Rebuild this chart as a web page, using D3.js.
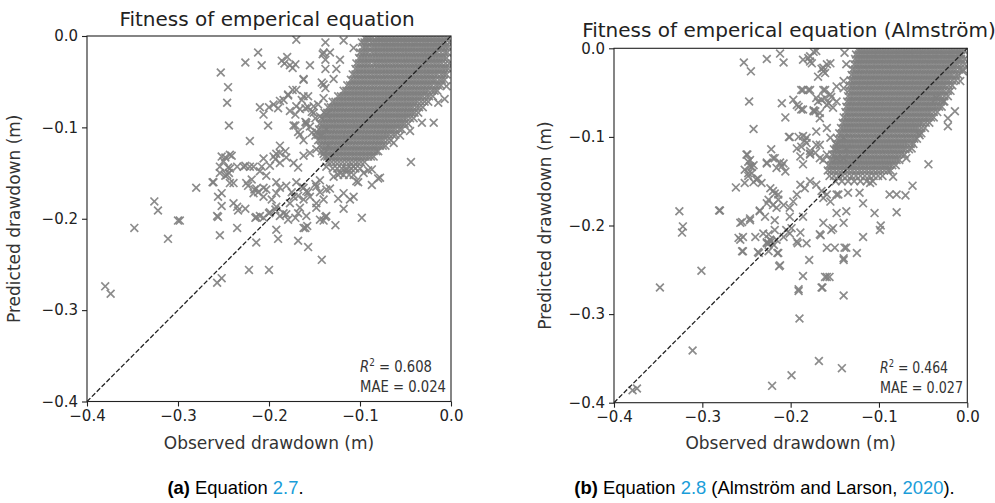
<!DOCTYPE html>
<html>
<head>
<meta charset="utf-8">
<script src="https://cdn.jsdelivr.net/npm/d3@7"></script>
<style>
  html, body { margin: 0; padding: 0; background: #fff; }
  svg { display: block; }
</style>
</head>
<body>
<svg id="fig" width="995" height="503"></svg>
<script>
// Axis ticks shared by both panels (metres)
const tickValues = [-0.4, -0.3, -0.2, -0.1, 0.0];

// Panel (a): scattered [observed, predicted] drawdown pairs (m)
const scatterA = [
  [-0.170,-0.004],[-0.212,-0.018],[-0.226,-0.029],[-0.208,-0.032],[-0.253,-0.040],[-0.245,-0.056],[-0.246,-0.073],
  [-0.244,-0.098],[-0.221,-0.115],[-0.183,-0.030],[-0.180,-0.023],[-0.177,-0.032],[-0.174,-0.035],[-0.186,-0.027],
  [-0.171,-0.031],[-0.155,-0.032],[-0.141,-0.020],[-0.138,-0.026],[-0.138,-0.007],[-0.140,-0.018],[-0.162,-0.048],
  [-0.170,-0.059],[-0.142,-0.051],[-0.138,-0.057],[-0.210,-0.078],[-0.206,-0.086],[-0.201,-0.098],[-0.195,-0.075],
  [-0.190,-0.079],[-0.184,-0.070],[-0.179,-0.065],[-0.174,-0.059],[-0.170,-0.077],[-0.164,-0.070],[-0.160,-0.079],
  [-0.157,-0.066],[-0.153,-0.083],[-0.149,-0.090],[-0.173,-0.098],[-0.168,-0.105],[-0.160,-0.094],[-0.155,-0.099],
  [-0.148,-0.105],[-0.162,-0.114],[-0.252,-0.132],[-0.243,-0.130],[-0.254,-0.143],[-0.243,-0.145],[-0.254,-0.150],
  [-0.235,-0.143],[-0.228,-0.143],[-0.217,-0.143],[-0.208,-0.143],[-0.206,-0.134],[-0.195,-0.132],[-0.188,-0.128],
  [-0.261,-0.160],[-0.243,-0.161],[-0.246,-0.152],[-0.280,-0.166],[-0.256,-0.176],[-0.252,-0.172],[-0.239,-0.183],
  [-0.235,-0.187],[-0.257,-0.197],[-0.256,-0.198],[-0.225,-0.161],[-0.217,-0.172],[-0.214,-0.167],[-0.206,-0.176],
  [-0.203,-0.168],[-0.197,-0.179],[-0.192,-0.172],[-0.226,-0.189],[-0.214,-0.198],[-0.206,-0.199],[-0.200,-0.194],
  [-0.192,-0.187],[-0.184,-0.194],[-0.177,-0.183],[-0.173,-0.176],[-0.235,-0.210],[-0.254,-0.218],[-0.192,-0.212],
  [-0.179,-0.201],[-0.168,-0.194],[-0.214,-0.226],[-0.190,-0.222],[-0.168,-0.224],[-0.157,-0.231],[-0.162,-0.210],
  [-0.158,-0.208],[-0.144,-0.201],[-0.138,-0.198],[-0.127,-0.207],[-0.118,-0.189],[-0.111,-0.179],[-0.098,-0.199],
  [-0.348,-0.210],[-0.326,-0.181],[-0.322,-0.191],[-0.300,-0.202],[-0.311,-0.222],[-0.044,-0.138],[-0.087,-0.163],
  [-0.080,-0.156],[-0.104,-0.159],[-0.096,-0.150],[-0.091,-0.147],[-0.122,-0.150],[-0.115,-0.147],[-0.107,-0.143],
  [-0.129,-0.154],[-0.137,-0.143],[-0.144,-0.158],[-0.133,-0.167],[-0.148,-0.165],[-0.164,-0.165],[-0.159,-0.170],
  [-0.155,-0.176],[-0.148,-0.183],[-0.162,-0.179],[-0.124,-0.178],[-0.118,-0.172],[-0.107,-0.176],[-0.005,-0.055],
  [-0.007,-0.069],[-0.014,-0.073],[-0.019,-0.095],[-0.032,-0.095],[-0.045,-0.104],[-0.056,-0.109],[-0.063,-0.117],
  [-0.078,-0.155],[-0.087,-0.146],[-0.102,-0.160],[-0.162,-0.047],[-0.140,-0.053],[-0.129,-0.047],[-0.138,-0.036],
  [-0.126,-0.036],[-0.122,-0.026],[-0.133,-0.018],[-0.118,-0.005],[-0.107,-0.013],[-0.162,-0.066],[-0.151,-0.077],
  [-0.159,-0.095],[-0.144,-0.088],[-0.149,-0.109],[-0.179,-0.064],[-0.188,-0.071],[-0.200,-0.078],[-0.177,-0.082],
  [-0.171,-0.086],[-0.166,-0.080],[-0.157,-0.078],[-0.151,-0.084],[-0.146,-0.075],[-0.140,-0.068],[-0.137,-0.086],
  [-0.171,-0.098],[-0.166,-0.108],[-0.159,-0.097],[-0.153,-0.106],[-0.142,-0.109],[-0.137,-0.102],[-0.188,-0.120],
  [-0.182,-0.126],[-0.192,-0.129],[-0.181,-0.133],[-0.188,-0.139],[-0.173,-0.139],[-0.168,-0.144],[-0.162,-0.131],
  [-0.155,-0.128],[-0.148,-0.124],[-0.140,-0.129],[-0.135,-0.120],[-0.248,-0.133],[-0.250,-0.137],[-0.241,-0.131],
  [-0.245,-0.144],[-0.244,-0.150],[-0.248,-0.153],[-0.239,-0.161],[-0.226,-0.142],[-0.221,-0.143],[-0.210,-0.148],
  [-0.199,-0.142],[-0.193,-0.135],[-0.203,-0.153],[-0.219,-0.157],[-0.223,-0.164],[-0.216,-0.168],[-0.212,-0.171],
  [-0.206,-0.166],[-0.192,-0.160],[-0.188,-0.166],[-0.181,-0.164],[-0.175,-0.171],[-0.168,-0.175],[-0.170,-0.160],
  [-0.162,-0.166],[-0.157,-0.171],[-0.149,-0.162],[-0.144,-0.171],[-0.140,-0.179],[-0.137,-0.168],[-0.262,-0.160],
  [-0.252,-0.186],[-0.234,-0.191],[-0.215,-0.199],[-0.210,-0.197],[-0.199,-0.193],[-0.193,-0.190],[-0.188,-0.197],
  [-0.181,-0.195],[-0.171,-0.199],[-0.166,-0.188],[-0.159,-0.197],[-0.148,-0.188],[-0.140,-0.202],[-0.137,-0.197],
  [-0.298,-0.202],[-0.160,-0.210],[-0.142,-0.245],[-0.222,-0.256],[-0.200,-0.256],[-0.257,-0.270],[-0.252,-0.265],
  [-0.380,-0.274],[-0.374,-0.282]
];

// Panel (a): rows of the dense cloud, [predicted, [observed...]] in millimetres
const denseA = [
  [-2,[-95,-92,-89,-86,-82,-79,-76,-73,-70,-67,-64,-61,-58,-55,-52,-49,-46,-43,-40,-37,-34,-31,-28,-25,-22,-19,-16,-13,-10,-7,-4]],
  [-7,[-98,-95,-92,-88,-85,-82,-79,-76,-73,-70,-67,-64,-61,-58,-55,-52,-49,-46,-43,-40,-37,-34,-31,-28,-25,-22,-19,-16,-13,-10,-6,-2]],
  [-12,[-97,-94,-91,-87,-84,-81,-78,-75,-72,-69,-66,-63,-60,-57,-54,-51,-48,-45,-42,-39,-36,-33,-30,-27,-24,-21,-18,-15,-12,-9,-6,-3]],
  [-18,[-100,-97,-94,-91,-87,-84,-81,-78,-75,-72,-69,-66,-63,-60,-57,-54,-51,-48,-45,-42,-39,-36,-33,-30,-27,-24,-21,-18,-15,-11,-7,-4]],
  [-24,[-101,-98,-95,-92,-89,-86,-83,-80,-77,-74,-71,-68,-65,-62,-59,-56,-53,-50,-47,-44,-41,-38,-35,-32,-29,-26,-23,-20,-17,-14,-11,-8,-5]],
  [-30,[-104,-101,-98,-95,-92,-89,-85,-82,-79,-76,-73,-70,-67,-64,-61,-58,-55,-52,-49,-46,-43,-40,-37,-34,-31,-28,-25,-22,-19,-16,-13,-10,-6,-2]],
  [-36,[-105,-102,-99,-96,-93,-90,-87,-84,-81,-78,-75,-72,-69,-66,-63,-60,-57,-54,-51,-48,-45,-42,-39,-36,-33,-30,-27,-24,-21,-18,-15,-12,-9,-6,-3]],
  [-42,[-108,-105,-102,-99,-96,-93,-90,-87,-84,-81,-78,-75,-72,-69,-66,-63,-60,-57,-54,-51,-48,-45,-42,-39,-36,-33,-30,-27,-24,-21,-18,-15,-11,-8,-5]],
  [-48,[-110,-107,-104,-101,-98,-95,-92,-89,-86,-83,-80,-77,-74,-71,-68,-65,-62,-59,-56,-53,-50,-47,-44,-41,-38,-35,-32,-29,-26,-23,-20,-17,-13,-10,-7]],
  [-54,[-114,-111,-108,-105,-102,-99,-96,-93,-90,-87,-84,-81,-78,-75,-72,-69,-66,-63,-60,-57,-54,-51,-48,-45,-42,-39,-36,-33,-30,-27,-24,-21,-17,-14,-11]],
  [-60,[-118,-115,-112,-109,-106,-103,-100,-97,-94,-91,-88,-85,-82,-79,-76,-73,-70,-67,-64,-61,-58,-55,-52,-49,-46,-43,-40,-37,-34,-31,-28,-25,-21,-18,-15]],
  [-66,[-124,-121,-118,-115,-112,-109,-106,-103,-100,-97,-94,-91,-88,-85,-82,-79,-76,-73,-70,-67,-64,-61,-58,-55,-52,-49,-46,-43,-40,-37,-34,-31,-27,-24,-20]],
  [-72,[-130,-127,-124,-121,-118,-115,-112,-109,-106,-103,-100,-97,-94,-91,-88,-85,-82,-79,-76,-73,-70,-67,-64,-61,-58,-55,-52,-49,-46,-43,-40,-37,-33,-29,-25]],
  [-78,[-135,-132,-129,-126,-123,-120,-117,-114,-111,-108,-105,-102,-99,-96,-93,-90,-87,-84,-81,-78,-75,-72,-69,-66,-63,-60,-57,-54,-51,-48,-45,-42,-38,-35,-31]],
  [-84,[-139,-136,-133,-130,-127,-124,-121,-118,-115,-112,-109,-106,-103,-100,-97,-94,-91,-88,-85,-82,-79,-76,-73,-70,-67,-64,-61,-58,-55,-52,-49,-46,-43,-40,-36]],
  [-90,[-142,-139,-136,-133,-130,-127,-124,-121,-118,-115,-112,-109,-106,-103,-100,-97,-94,-91,-88,-85,-82,-79,-76,-73,-70,-67,-64,-61,-58,-55,-52,-49,-45,-41]],
  [-96,[-144,-141,-138,-135,-132,-129,-126,-123,-120,-117,-114,-111,-108,-105,-102,-99,-96,-93,-90,-87,-84,-81,-78,-75,-72,-69,-66,-63,-60,-57,-54,-51,-47]],
  [-102,[-145,-142,-139,-136,-133,-130,-127,-124,-121,-118,-115,-112,-109,-106,-103,-100,-97,-94,-91,-88,-85,-82,-79,-76,-73,-70,-67,-64,-61,-57,-54]],
  [-108,[-146,-143,-140,-137,-134,-131,-128,-125,-122,-119,-116,-113,-110,-107,-104,-101,-98,-95,-92,-89,-86,-83,-80,-77,-74,-71,-68,-64,-61]],
  [-114,[-146,-143,-140,-137,-134,-131,-128,-125,-122,-119,-116,-113,-110,-107,-104,-101,-98,-95,-92,-89,-86,-83,-80,-77,-74,-70,-66]],
  [-120,[-144,-141,-138,-135,-132,-129,-126,-123,-120,-117,-114,-111,-108,-105,-102,-99,-96,-93,-90,-87,-84,-81,-78,-75,-72]],
  [-126,[-142,-139,-136,-133,-130,-127,-124,-121,-118,-115,-112,-109,-106,-103,-100,-97,-94,-91,-88,-85,-82,-80]],
  [-132,[-139,-136,-133,-130,-127,-124,-121,-118,-115,-112,-109,-106,-103,-100,-97,-94,-91,-88,-85]],
  [-138,[-135,-131,-127,-123,-119,-115,-111,-107,-103,-99,-95]],
  [-145,[-130,-125,-120,-115,-110,-105,-100]],
  [-152,[-124,-118,-112,-107]]
];

// Panel (b): scattered [observed, predicted] drawdown pairs (m)
const scatterB = [
  [-0.253,-0.016],[-0.245,-0.026],[-0.227,-0.012],[-0.212,-0.006],[-0.208,-0.016],[-0.186,-0.013],[-0.178,-0.009],
  [-0.176,-0.017],[-0.174,-0.004],[-0.165,-0.023],[-0.161,-0.028],[-0.155,-0.017],[-0.169,-0.032],[-0.247,-0.060],
  [-0.210,-0.062],[-0.206,-0.078],[-0.197,-0.058],[-0.191,-0.066],[-0.186,-0.047],[-0.178,-0.047],[-0.242,-0.091],
  [-0.201,-0.100],[-0.191,-0.100],[-0.188,-0.111],[-0.184,-0.104],[-0.178,-0.119],[-0.174,-0.070],[-0.167,-0.073],
  [-0.165,-0.058],[-0.161,-0.047],[-0.157,-0.062],[-0.154,-0.055],[-0.148,-0.043],[-0.249,-0.120],[-0.246,-0.126],
  [-0.244,-0.134],[-0.248,-0.141],[-0.242,-0.132],[-0.227,-0.130],[-0.220,-0.124],[-0.208,-0.130],[-0.206,-0.139],
  [-0.237,-0.147],[-0.242,-0.151],[-0.262,-0.157],[-0.252,-0.152],[-0.223,-0.158],[-0.218,-0.164],[-0.214,-0.171],
  [-0.227,-0.175],[-0.235,-0.183],[-0.229,-0.190],[-0.257,-0.197],[-0.255,-0.196],[-0.246,-0.194],[-0.280,-0.183],
  [-0.326,-0.184],[-0.322,-0.201],[-0.323,-0.208],[-0.259,-0.214],[-0.254,-0.213],[-0.240,-0.213],[-0.231,-0.209],
  [-0.223,-0.216],[-0.218,-0.205],[-0.208,-0.213],[-0.201,-0.209],[-0.301,-0.251],[-0.348,-0.270],[-0.311,-0.341],
  [-0.379,-0.386],[-0.374,-0.384],[-0.221,-0.381],[-0.199,-0.369],[-0.168,-0.353],[-0.142,-0.361],[-0.190,-0.305],
  [-0.191,-0.274],[-0.186,-0.257],[-0.164,-0.270],[-0.159,-0.258],[-0.156,-0.258],[-0.140,-0.279],[-0.179,-0.239],
  [-0.140,-0.239],[-0.212,-0.245],[-0.215,-0.231],[-0.219,-0.222],[-0.225,-0.220],[-0.227,-0.219],[-0.254,-0.229],
  [-0.236,-0.231],[-0.192,-0.220],[-0.182,-0.220],[-0.166,-0.211],[-0.154,-0.205],[-0.159,-0.225],[-0.150,-0.225],
  [-0.137,-0.225],[-0.125,-0.231],[-0.118,-0.213],[-0.099,-0.205],[-0.180,-0.011],[-0.171,-0.003],[-0.163,-0.026],
  [-0.159,-0.018],[-0.139,-0.005],[-0.137,-0.018],[-0.193,-0.064],[-0.188,-0.069],[-0.180,-0.047],[-0.172,-0.071],
  [-0.169,-0.060],[-0.163,-0.047],[-0.161,-0.056],[-0.159,-0.064],[-0.155,-0.052],[-0.148,-0.060],[-0.140,-0.045],
  [-0.202,-0.100],[-0.186,-0.099],[-0.182,-0.107],[-0.189,-0.122],[-0.193,-0.113],[-0.178,-0.116],[-0.171,-0.094],
  [-0.167,-0.109],[-0.172,-0.118],[-0.159,-0.120],[-0.155,-0.101],[-0.148,-0.109],[-0.140,-0.101],[-0.137,-0.113],
  [-0.148,-0.124],[-0.163,-0.126],[-0.222,-0.114],[-0.218,-0.124],[-0.212,-0.129],[-0.210,-0.133],[-0.227,-0.129],
  [-0.216,-0.135],[-0.250,-0.120],[-0.248,-0.128],[-0.246,-0.133],[-0.252,-0.137],[-0.244,-0.141],[-0.248,-0.144],
  [-0.239,-0.148],[-0.233,-0.152],[-0.220,-0.161],[-0.214,-0.165],[-0.225,-0.171],[-0.220,-0.177],[-0.208,-0.177],
  [-0.216,-0.180],[-0.201,-0.180],[-0.197,-0.173],[-0.193,-0.165],[-0.189,-0.154],[-0.184,-0.158],[-0.178,-0.150],
  [-0.171,-0.154],[-0.165,-0.161],[-0.163,-0.169],[-0.159,-0.165],[-0.155,-0.173],[-0.148,-0.165],[-0.281,-0.183],
  [-0.235,-0.184],[-0.246,-0.192],[-0.218,-0.194],[-0.201,-0.190],[-0.186,-0.190],[-0.199,-0.203],[-0.189,-0.208],
  [-0.257,-0.216],[-0.225,-0.210],[-0.222,-0.218],[-0.227,-0.220],[-0.216,-0.216],[-0.205,-0.205],[-0.255,-0.229],
  [-0.237,-0.230],[-0.225,-0.229],[-0.214,-0.231],[-0.193,-0.218],[-0.167,-0.210],[-0.139,-0.225],[-0.163,-0.197],
  [-0.152,-0.203],[-0.140,-0.197],[-0.148,-0.186],[-0.137,-0.184],[-0.213,-0.246],[-0.140,-0.237],[-0.161,-0.258],
  [-0.191,-0.272],[-0.165,-0.270],[-0.022,-0.088],[-0.044,-0.131],[-0.084,-0.145],[-0.110,-0.152],[-0.122,-0.163],
  [-0.135,-0.163],[-0.146,-0.165],[-0.088,-0.165],[-0.080,-0.165],[-0.014,-0.071],[-0.022,-0.079],[-0.027,-0.060],
  [-0.035,-0.056],[-0.005,-0.026],[-0.008,-0.037],[-0.054,-0.098],[-0.063,-0.113],[-0.069,-0.124],[-0.178,-0.015],
  [-0.163,-0.022],[-0.188,-0.047],[-0.171,-0.056],[-0.186,-0.069],[-0.174,-0.071],[-0.167,-0.079],[-0.152,-0.067],
  [-0.140,-0.037],[-0.159,-0.090],[-0.182,-0.101],[-0.171,-0.109],[-0.178,-0.120],[-0.186,-0.131],[-0.167,-0.124],
  [-0.148,-0.113],[-0.140,-0.124],[-0.080,-0.185],[-0.098,-0.200],[-0.070,-0.166],[-0.062,-0.155],[-0.118,-0.175],
  [-0.105,-0.186]
];

// Panel (b): rows of the dense cloud, [predicted, [observed...]] in millimetres
const denseB = [
  [-2,[-124,-121,-118,-115,-112,-109,-106,-103,-100,-97,-94,-91,-88,-85,-82,-79,-76,-73,-70,-67,-64,-61,-58,-55,-52,-49,-46,-43,-40,-37,-34,-31,-28,-25,-22,-19,-16,-13,-10,-7,-4]],
  [-7,[-126,-123,-120,-117,-114,-111,-108,-105,-102,-99,-96,-93,-90,-87,-84,-81,-78,-75,-72,-69,-66,-63,-60,-57,-54,-51,-48,-45,-42,-39,-36,-33,-30,-27,-24,-21,-18,-15,-12,-9,-6]],
  [-12,[-127,-124,-121,-118,-115,-112,-109,-106,-103,-100,-97,-94,-91,-88,-85,-82,-79,-76,-73,-70,-67,-64,-61,-58,-55,-52,-49,-46,-43,-40,-37,-34,-31,-28,-25,-22,-19,-16,-13,-10,-7,-3]],
  [-18,[-128,-125,-122,-119,-116,-113,-110,-107,-104,-101,-98,-95,-92,-89,-86,-83,-80,-77,-74,-71,-68,-65,-62,-59,-56,-53,-50,-47,-44,-41,-38,-35,-32,-29,-26,-23,-20,-17,-14,-11,-7,-3]],
  [-24,[-130,-127,-124,-121,-118,-115,-112,-109,-106,-103,-100,-97,-94,-91,-88,-85,-82,-79,-76,-73,-70,-67,-64,-61,-58,-55,-52,-49,-46,-43,-40,-37,-34,-31,-28,-25,-22,-19,-16,-13,-9,-5]],
  [-30,[-131,-128,-125,-122,-119,-116,-113,-110,-107,-104,-101,-98,-95,-92,-89,-86,-83,-80,-77,-74,-71,-68,-65,-62,-59,-56,-53,-50,-47,-44,-41,-38,-35,-32,-29,-26,-23,-20,-17,-13,-10]],
  [-36,[-132,-129,-126,-123,-120,-117,-114,-111,-108,-105,-102,-99,-96,-93,-90,-87,-84,-81,-78,-75,-72,-69,-66,-63,-60,-57,-54,-51,-48,-45,-42,-39,-36,-33,-30,-27,-24,-21,-17,-13]],
  [-42,[-133,-130,-127,-124,-121,-118,-115,-112,-109,-106,-103,-100,-97,-94,-91,-88,-85,-82,-79,-76,-73,-70,-67,-64,-61,-58,-55,-52,-49,-46,-43,-40,-37,-34,-31,-28,-25,-21,-17]],
  [-48,[-134,-131,-128,-125,-122,-119,-116,-113,-110,-107,-104,-101,-98,-95,-92,-89,-86,-83,-80,-77,-74,-71,-68,-65,-62,-59,-56,-53,-50,-47,-44,-41,-38,-35,-32,-29,-26,-22,-19]],
  [-54,[-135,-132,-129,-126,-123,-120,-117,-114,-111,-108,-105,-102,-99,-96,-93,-90,-87,-84,-81,-78,-75,-72,-69,-66,-63,-60,-57,-54,-51,-48,-45,-42,-39,-36,-33,-30,-26,-22]],
  [-60,[-136,-133,-130,-127,-124,-121,-118,-115,-112,-109,-106,-103,-100,-97,-94,-91,-88,-85,-82,-79,-76,-73,-70,-67,-64,-61,-58,-55,-52,-49,-46,-43,-40,-37,-34,-30,-26]],
  [-66,[-137,-134,-131,-128,-125,-122,-119,-116,-113,-110,-107,-104,-101,-98,-95,-92,-89,-86,-83,-80,-77,-74,-71,-68,-65,-62,-59,-56,-53,-50,-47,-44,-41,-38,-35,-32,-29]],
  [-72,[-138,-135,-132,-129,-126,-123,-120,-117,-114,-111,-108,-105,-102,-99,-96,-93,-90,-87,-84,-81,-78,-75,-72,-69,-66,-63,-60,-57,-54,-51,-48,-45,-42,-38,-34]],
  [-78,[-140,-137,-134,-131,-128,-125,-122,-119,-116,-113,-110,-107,-104,-101,-98,-95,-92,-89,-86,-83,-80,-77,-74,-71,-68,-65,-62,-59,-56,-53,-50,-47,-44,-41,-38]],
  [-84,[-141,-138,-135,-132,-129,-126,-123,-120,-117,-114,-111,-108,-105,-102,-99,-96,-93,-90,-87,-84,-81,-78,-75,-72,-69,-66,-63,-60,-57,-54,-51,-47,-43]],
  [-90,[-143,-140,-137,-134,-131,-128,-125,-122,-119,-116,-113,-110,-107,-104,-101,-98,-95,-92,-89,-86,-83,-80,-77,-74,-71,-68,-65,-62,-59,-56,-52,-48]],
  [-96,[-145,-142,-139,-136,-133,-130,-127,-124,-121,-118,-115,-112,-109,-106,-103,-100,-97,-94,-91,-88,-85,-82,-79,-76,-73,-70,-67,-64,-61,-58,-55,-52]],
  [-102,[-147,-144,-141,-138,-135,-132,-129,-126,-123,-120,-117,-114,-111,-108,-105,-102,-99,-96,-93,-90,-87,-84,-81,-78,-75,-72,-69,-66,-63,-60,-57]],
  [-108,[-149,-146,-143,-140,-137,-134,-131,-128,-125,-122,-119,-116,-113,-110,-107,-104,-101,-98,-95,-92,-89,-86,-83,-80,-77,-74,-71,-68,-64,-61]],
  [-114,[-151,-148,-145,-142,-139,-136,-133,-130,-127,-124,-121,-118,-115,-112,-109,-106,-103,-100,-97,-94,-91,-88,-85,-82,-79,-76,-73,-70,-66]],
  [-120,[-153,-150,-147,-144,-141,-138,-135,-132,-129,-126,-123,-120,-117,-114,-111,-108,-105,-102,-99,-96,-93,-90,-87,-84,-81,-78,-75,-71]],
  [-126,[-155,-152,-149,-146,-143,-140,-137,-134,-131,-128,-125,-122,-119,-116,-113,-110,-107,-104,-101,-98,-95,-92,-89,-86,-83,-80,-77]],
  [-132,[-157,-154,-151,-148,-145,-142,-139,-136,-133,-130,-127,-124,-121,-118,-115,-112,-109,-106,-103,-100,-97,-94,-91,-88,-85,-81]],
  [-138,[-158,-154,-150,-146,-142,-138,-134,-130,-126,-122,-118,-114,-110,-106,-102,-98,-94,-90,-87]],
  [-144,[-156,-151,-146,-141,-136,-131,-126,-121,-116,-111,-106,-101,-96]],
  [-150,[-149,-142,-135,-128,-121,-114,-107]]
];

// Fit statistics printed in each panel
const statsA = { r2: "0.608", mae: "0.024" };
const statsB = { r2: "0.464", mae: "0.027" };

const titles = ["Fitness of emperical equation", "Fitness of emperical equation (Almström)"];
const xLabel = "Observed drawdown (m)";
const yLabel = "Predicted drawdown (m)";

const svg = d3.select("#fig");
const defs = svg.append("defs");
const fmt = d3.format(".1f");
const plotFont = "'DejaVu Sans', sans-serif";

function drawPanel(cfg) {
  const x = d3.scaleLinear().domain([-0.4, 0]).range([cfg.left, cfg.right]);
  const y = d3.scaleLinear().domain([-0.4, 0]).range([cfg.bottom, cfg.top]);
  const g = svg.append("g");

  defs.append("clipPath").attr("id", cfg.id)
    .append("rect")
    .attr("x", cfg.left).attr("y", cfg.top)
    .attr("width", cfg.right - cfg.left).attr("height", cfg.bottom - cfg.top);

  // dense rows are stored in millimetres
  const points = cfg.scatter.concat(
    cfg.dense.flatMap(([pred, obs]) => obs.map(o => [o / 1000, pred / 1000]))
  );

  const r = 3.9;
  g.append("g").attr("clip-path", `url(#${cfg.id})`)
    .selectAll("path").data(points).join("path")
    .attr("transform", d => `translate(${x(d[0])},${y(d[1])})`)
    .attr("d", `M${-r},${-r}L${r},${r}M${-r},${r}L${r},${-r}`)
    .attr("fill", "none")
    .attr("stroke", "#808080")
    .attr("stroke-width", 1.7)
    .attr("stroke-opacity", 0.9);

  // 1:1 reference line
  g.append("line")
    .attr("x1", x(-0.4)).attr("y1", y(-0.4))
    .attr("x2", x(0)).attr("y2", y(0))
    .attr("stroke", "#222").attr("stroke-width", 1.3)
    .attr("stroke-dasharray", "4.8,2.1");

  // axes
  const xAxis = g.append("g").attr("transform", `translate(0,${cfg.bottom})`)
    .call(d3.axisBottom(x).tickValues(tickValues).tickFormat(fmt).tickSize(5).tickSizeOuter(0).tickPadding(4));
  const yAxis = g.append("g").attr("transform", `translate(${cfg.left},0)`)
    .call(d3.axisLeft(y).tickValues(tickValues).tickFormat(fmt).tickSize(5).tickSizeOuter(0).tickPadding(4));
  [xAxis, yAxis].forEach(a => {
    a.select(".domain").remove();
    a.selectAll(".tick line").attr("stroke", "#222").attr("stroke-width", 1.1);
    a.selectAll(".tick text").attr("fill", "#222")
      .attr("font-family", plotFont).attr("font-size", 15);
  });

  // frame
  g.append("rect")
    .attr("x", cfg.left).attr("y", cfg.top)
    .attr("width", cfg.right - cfg.left).attr("height", cfg.bottom - cfg.top)
    .attr("fill", "none").attr("stroke", "#222").attr("stroke-width", 1.1);

  // title and axis labels
  g.append("text")
    .attr("x", cfg.titleX).attr("y", cfg.titleY)
    .attr("text-anchor", "middle")
    .attr("font-family", plotFont).attr("font-size", 20).attr("fill", "#222")
    .text(cfg.title);

  g.append("text")
    .attr("x", (cfg.left + cfg.right) / 2).attr("y", 449)
    .attr("text-anchor", "middle")
    .attr("font-family", plotFont).attr("font-size", 17).attr("fill", "#333")
    .text(xLabel);

  g.append("text")
    .attr("transform", `translate(${cfg.yLabelX},${(cfg.top + cfg.bottom) / 2}) rotate(-90)`)
    .attr("text-anchor", "middle")
    .attr("font-family", plotFont).attr("font-size", 17).attr("fill", "#333")
    .text(yLabel);

  // fit statistics
  const t1 = g.append("text")
    .attr("x", cfg.statX).attr("y", cfg.statY)
    .attr("font-family", plotFont).attr("font-size", 15).attr("fill", "#333")
    .attr("textLength", cfg.r2Len).attr("lengthAdjust", "spacingAndGlyphs");
  t1.append("tspan").attr("font-style", "italic").text("R");
  t1.append("tspan").attr("dy", -6).attr("font-size", 10).text("2");
  t1.append("tspan").attr("dy", 6).text(" = " + cfg.stats.r2);

  g.append("text")
    .attr("x", cfg.statX).attr("y", cfg.statY + 20)
    .attr("font-family", plotFont).attr("font-size", 15).attr("fill", "#333")
    .attr("textLength", cfg.maeLen).attr("lengthAdjust", "spacingAndGlyphs")
    .text("MAE = " + cfg.stats.mae);
}

drawPanel({
  id: "clipA", left: 87, right: 451, top: 36, bottom: 401.5,
  scatter: scatterA, dense: denseA, stats: statsA, title: titles[0],
  titleX: 267, titleY: 26, yLabelX: 20, statX: 360, statY: 372, r2Len: 72, maeLen: 86
});
drawPanel({
  id: "clipB", left: 614, right: 967.3, top: 48.3, bottom: 402.7,
  scatter: scatterB, dense: denseB, stats: statsB, title: titles[1],
  titleX: 789, titleY: 36.5, yLabelX: 551, statX: 880, statY: 373, r2Len: 68, maeLen: 83
});

// sub-figure captions
function caption(cx, parts) {
  const t = svg.append("text")
    .attr("x", cx).attr("y", 494)
    .attr("text-anchor", "middle")
    .attr("font-family", "'Liberation Sans', Arial, sans-serif")
    .attr("font-size", 18.4).attr("fill", "#000");
  parts.forEach(p => {
    const s = t.append("tspan").text(p.text);
    if (p.bold) s.attr("font-weight", "bold");
    if (p.link) s.attr("fill", "#1a9dd9");
  });
}
caption(235.5, [{ text: "(a)", bold: true }, { text: " Equation " }, { text: "2.7", link: true }, { text: "." }]);
caption(764.5, [{ text: "(b)", bold: true }, { text: " Equation " }, { text: "2.8", link: true },
  { text: " (Almström and Larson, " }, { text: "2020", link: true }, { text: ")." }]);
</script>
</body>
</html>
